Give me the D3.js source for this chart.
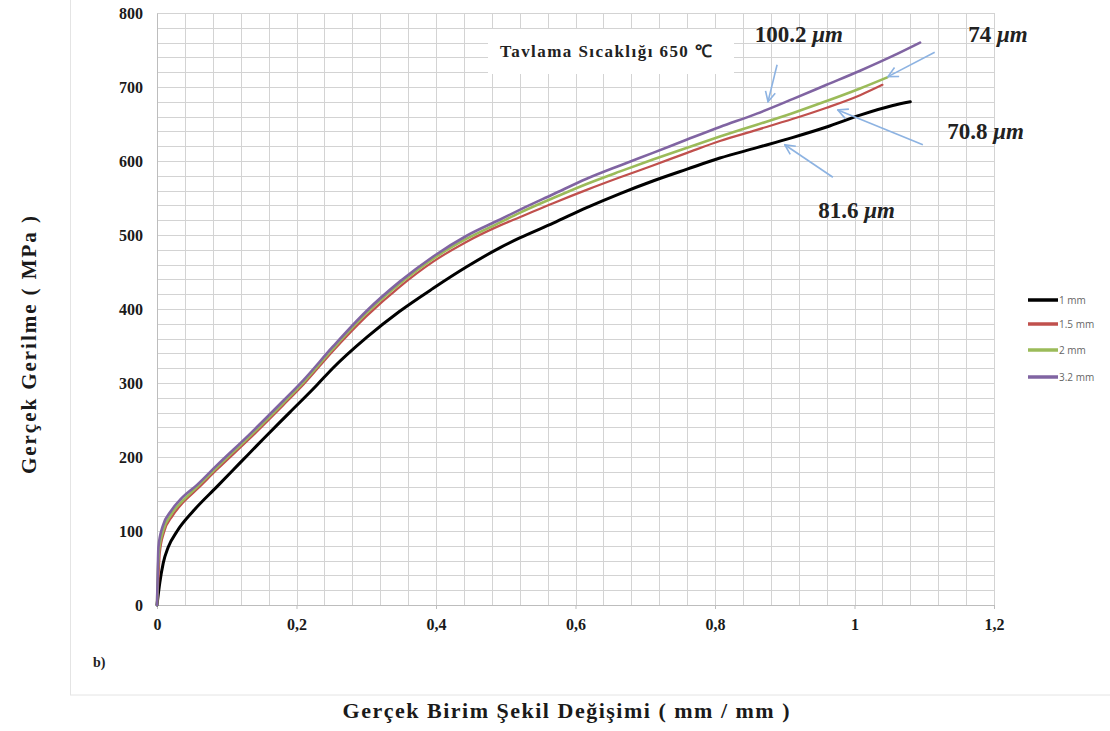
<!DOCTYPE html>
<html><head><meta charset="utf-8">
<script src="https://cdn.jsdelivr.net/npm/d3@7"></script>
<style>body{margin:0;background:#fff;} svg{display:block;}</style>
</head><body>
<svg id="chart" width="1110" height="731"></svg>
<script>
// ---- data ----
const seriesNames = ["1 mm", "1.5 mm", "2 mm", "3.2 mm"];
const seriesColors = ["#000000", "#C0504D", "#9BBB59", "#8064A2"];

const strain1mm = [0,0.004,0.009,0.016,0.029,0.052,0.086,0.119,0.152,0.19,0.229,0.252,0.301,0.348,0.396,0.444,0.492,0.52,0.568,0.616,0.664,0.711,0.76,0.807,0.86,0.912,0.96,1.008,1.055,1.08];
const stress1mm = [0,30,57,78,100,127,160,192,224,260,297,320,362,397,428,457,483,496,516,537,556,573,589,604,618,632,646,662,675,680];

const strain15mm = [0,0.002,0.004,0.01,0.022,0.037,0.057,0.086,0.133,0.181,0.21,0.252,0.3,0.348,0.396,0.444,0.492,0.52,0.568,0.616,0.664,0.711,0.76,0.807,0.86,0.912,0.96,1.008,1.04];
const stress15mm = [0,35,70,98,120,138,156,183,225,270,298,343,390,430,464,491,513,524,543,561,578,594,611,627,642,657,672,689,703];

const strain2mm = [0,0.001,0.003,0.009,0.02,0.037,0.057,0.086,0.133,0.181,0.21,0.252,0.3,0.348,0.396,0.444,0.492,0.52,0.568,0.616,0.664,0.711,0.76,0.807,0.86,0.912,0.96,1.008,1.047];
const stress2mm = [0,38,74,101,122,141,159,186,228,273,301,346,394,434,468,495,517,530,550,569,586,602,618,633,649,665,681,698,713];

const strain32mm = [0,0.001,0.002,0.008,0.02,0.035,0.057,0.086,0.133,0.181,0.21,0.252,0.3,0.348,0.396,0.444,0.492,0.52,0.568,0.616,0.664,0.711,0.76,0.807,0.86,0.912,0.96,1.008,1.055,1.094];
const stress32mm = [0,40,78,106,127,144,162,189,231,276,304,349,397,437,471,499,521,534,555,576,594,611,629,646,664,684,703,722,742,760];

const xTicks = [0,0.2,0.4,0.6,0.8,1,1.2];
const xTickLabels = ["0","0,2","0,4","0,6","0,8","1","1,2"];
const yTicks = [0,100,200,300,400,500,600,700,800];

const titleText = "Tavlama  Sıcaklığı 650 ℃";
const xTitle = "Gerçek Birim Şekil Değişimi ( mm / mm )";
const yTitle = "Gerçek Gerilme ( MPa )";

// annotation labels (data coords) and arrows (from -> to)
const annNumbers = ["100.2", "74", "70.8", "81.6"];
const annLabelX = [0.857, 1.163, 1.133, 0.948];
const annLabelY = [761, 761, 630, 523];
const annFromX = [0.889, 1.115, 1.098, 0.969];
const annFromY = [730, 747, 622, 578];
const annToX = [0.876, 1.048, 0.976, 0.900];
const annToY = [680, 714, 669, 622];

// ---- chart ----
const svg = d3.select("#chart");
const x = d3.scaleLinear().domain([0, 1.2]).range([157, 994]);
const y = d3.scaleLinear().domain([0, 800]).range([605, 13]);

// chart area frame
svg.append("rect").attr("x", 70.5).attr("y", -2).attr("width", 1045).attr("height", 697)
  .attr("fill", "none").attr("stroke", "#e4e4e4");

// gridlines
const g = svg.append("g");
g.selectAll("line.v").data(d3.range(0, 31).map(i => i * 0.04)).join("line")
  .attr("x1", d => Math.round(x(d)) + 0.5).attr("x2", d => Math.round(x(d)) + 0.5)
  .attr("y1", y(800)).attr("y2", y(0))
  .attr("stroke", "#d3d3d3").attr("stroke-width", 1);
g.selectAll("line.h").data(d3.range(0, 41).map(i => i * 20)).join("line")
  .attr("y1", d => Math.round(y(d)) + 0.5).attr("y2", d => Math.round(y(d)) + 0.5)
  .attr("x1", x(0)).attr("x2", x(1.2))
  .attr("stroke", "#d3d3d3").attr("stroke-width", 1);

// axes
const xAxis = d3.axisBottom(x).tickValues(xTicks).tickFormat((d, i) => xTickLabels[i]).tickSize(4).tickPadding(10);
const xa = svg.append("g").attr("transform", `translate(0,${y(0)})`).call(xAxis);
xa.select(".domain").attr("stroke", "#bdbdbd");
xa.selectAll(".tick line").attr("stroke", "#bdbdbd");
xa.selectAll("text").attr("font-family", "Liberation Serif").attr("font-weight", "bold")
  .attr("font-size", 16).attr("fill", "#1a1a1a");

const yAxis = d3.axisLeft(y).tickValues(yTicks).tickSize(0).tickPadding(14);
const ya = svg.append("g").attr("transform", `translate(${x(0)},0)`).call(yAxis);
ya.select(".domain").attr("stroke", "#bdbdbd");
ya.selectAll("text").attr("font-family", "Liberation Serif").attr("font-weight", "bold")
  .attr("font-size", 16).attr("fill", "#1a1a1a");

// title box
svg.append("rect").attr("x", 488).attr("y", 29).attr("width", 246).attr("height", 45).attr("fill", "#fff");
svg.append("text").attr("x", 500).attr("y", 57).attr("font-family", "Liberation Serif")
  .attr("font-weight", "bold").attr("font-size", 17).attr("fill", "#222")
  .attr("textLength", 212).attr("lengthAdjust", "spacing").text(titleText);

// series
const strains = [strain1mm, strain15mm, strain2mm, strain32mm];
const stresses = [stress1mm, stress15mm, stress2mm, stress32mm];
const widths = [3, 2.2, 2.6, 2.6];
const line = d3.line().x(d => x(d[0])).y(d => y(d[1])).curve(d3.curveMonotoneX);
strains.forEach((s, i) => {
  const pts = s.map((v, j) => [v, stresses[i][j]]);
  svg.append("path").datum(pts).attr("d", line).attr("fill", "none")
    .attr("stroke", seriesColors[i]).attr("stroke-width", widths[i])
    .attr("stroke-linejoin", "round").attr("stroke-linecap", "round");
});

// legend
const leg = svg.append("g");
seriesNames.forEach((n, i) => {
  const yy = [300, 324, 350, 377][i];
  leg.append("line").attr("x1", 1028).attr("x2", 1058).attr("y1", yy).attr("y2", yy)
    .attr("stroke", seriesColors[i]).attr("stroke-width", 3.5);
  leg.append("text").attr("x", 1059).attr("y", yy + 3.5).attr("font-family", "Open Sans")
    .attr("font-size", 10).attr("fill", "#666").text(n);
});

// arrows
svg.append("defs").append("marker").attr("id", "ah").attr("viewBox", "0 0 12 12")
  .attr("refX", 11).attr("refY", 6).attr("markerWidth", 12).attr("markerHeight", 12)
  .attr("markerUnits", "userSpaceOnUse").attr("orient", "auto")
  .append("path").attr("d", "M1,1 L11,6 L1,11").attr("fill", "none")
  .attr("stroke", "#8db3e2").attr("stroke-width", 1.6);
annNumbers.forEach((t, i) => {
  svg.append("line").attr("x1", x(annFromX[i])).attr("y1", y(annFromY[i]))
    .attr("x2", x(annToX[i])).attr("y2", y(annToY[i]))
    .attr("stroke", "#8db3e2").attr("stroke-width", 1.6).attr("marker-end", "url(#ah)");
  const tx = svg.append("text").attr("x", x(annLabelX[i])).attr("y", y(annLabelY[i]))
    .attr("font-family", "Liberation Serif").attr("font-weight", "bold")
    .attr("font-size", 23).attr("fill", "#222");
  tx.append("tspan").text(t + " ");
  tx.append("tspan").attr("font-style", "italic").text("μm");
});

// axis titles
svg.append("text").attr("x", 566).attr("y", 718).attr("text-anchor", "middle")
  .attr("font-family", "Liberation Serif").attr("font-weight", "bold").attr("font-size", 22)
  .attr("fill", "#1a1a1a").attr("textLength", 447).attr("lengthAdjust", "spacing").text(xTitle);
svg.append("text").attr("transform", "translate(36,345) rotate(-90)").attr("text-anchor", "middle")
  .attr("font-family", "Liberation Serif").attr("font-weight", "bold").attr("font-size", 21)
  .attr("fill", "#1a1a1a").attr("textLength", 258).attr("lengthAdjust", "spacing").text(yTitle);

svg.append("text").attr("x", 93).attr("y", 667).attr("font-family", "Liberation Serif")
  .attr("font-weight", "bold").attr("font-size", 14).attr("fill", "#222").text("b)");
</script>
</body></html>
